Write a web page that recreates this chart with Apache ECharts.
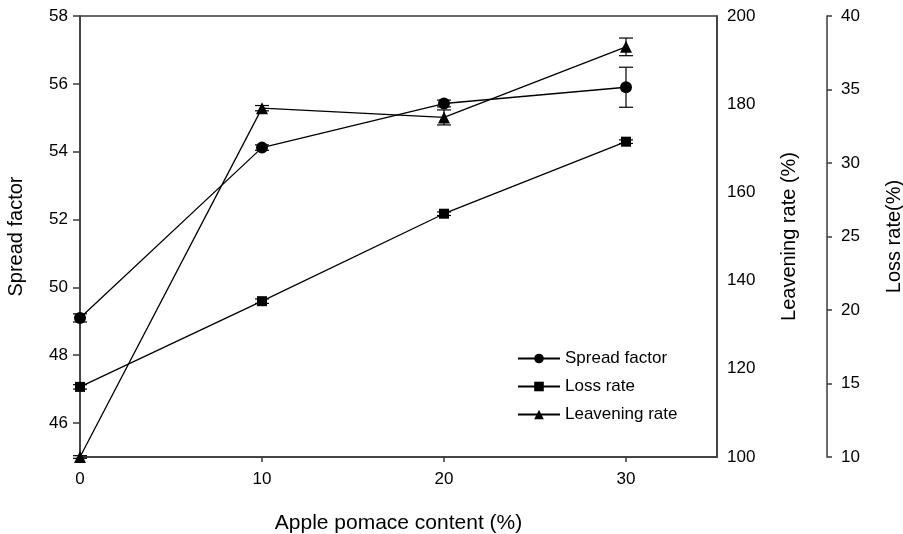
<!DOCTYPE html>
<html>
<head>
<meta charset="utf-8">
<script src="https://cdn.jsdelivr.net/npm/echarts@6/dist/echarts.min.js"></script>
<style>
  html, body { margin: 0; padding: 0; background: #fff; }
  #chart { width: 903px; height: 534px; }
</style>
</head>
<body>
<div id="chart"></div>
<script>
// data
const pomace = [0, 10, 20, 30]
const spreadFactor = [49.1, 54.12, 55.42, 55.9]
const spreadErr = [0.12, 0.08, 0.1, 0.59]
const lossRate = [14.77, 20.6, 26.55, 31.45]
const lossErr = [0.15, 0.15, 0.12, 0.12]
const leaveningRate = [100, 179.1, 177, 193]
const leaveningErr = [0.3, 0.6, 1.7, 2]

const xTicks = [0, 10, 20, 30]
const spreadTicks = [46, 48, 50, 52, 54, 56, 58]

const font = 'Liberation Sans, Arial, sans-serif'
const ink = '#000'
const axisInk = '#3a3a3a'

function pairs (vals) {
  return pomace.map((x, i) => [x, vals[i]])
}
function errData (vals, errs) {
  return pomace.map((x, i) => [x, vals[i] - errs[i], vals[i] + errs[i]])
}

// error bar renderer, goes through the axis scales
function errorBar (params, api) {
  const x = api.value(0)
  const lo = api.coord([x, api.value(1)])
  const hi = api.coord([x, api.value(2)])
  const half = 7
  const style = { stroke: ink, lineWidth: 1.2 }
  return {
    type: 'group',
    children: [
      { type: 'line', shape: { x1: lo[0], y1: lo[1], x2: hi[0], y2: hi[1] }, style },
      { type: 'line', shape: { x1: lo[0] - half, y1: lo[1], x2: lo[0] + half, y2: lo[1] }, style },
      { type: 'line', shape: { x1: hi[0] - half, y1: hi[1], x2: hi[0] + half, y2: hi[1] }, style }
    ]
  }
}

const lineStyleCommon = { color: ink, width: 1.3 }
const nameStyle = { color: ink, fontSize: 20, fontFamily: font }
const tickFont = 17

const option = {
  backgroundColor: '#fff',
  animation: false,
  textStyle: { fontFamily: font },
  grid: {
    left: 80,
    right: 186,
    top: 16,
    bottom: 77,
    containLabel: false,
    outerBoundsMode: 'none',
    show: true,
    borderColor: axisInk,
    borderWidth: 1.5,
    backgroundColor: 'transparent'
  },
  legend: {
    orient: 'vertical',
    left: 512,
    top: 345,
    itemWidth: 42,
    itemHeight: 12,
    itemGap: 11,
    data: ['Spread factor', 'Loss rate', 'Leavening rate'],
    textStyle: { color: ink, fontSize: 17, fontFamily: font }
  },
  xAxis: {
    type: 'value',
    min: 0,
    max: 35,
    name: 'Apple pomace content (%)',
    nameLocation: 'middle',
    nameGap: 56,
    nameTextStyle: { color: ink, fontSize: 21, fontFamily: font },
    axisLine: { show: true, lineStyle: { color: axisInk, width: 1.5 } },
    axisTick: { show: true, length: 5, customValues: xTicks, lineStyle: { color: axisInk, width: 1.5 } },
    axisLabel: { color: ink, fontSize: tickFont, margin: 14, customValues: xTicks },
    splitLine: { show: false }
  },
  yAxis: [
    {
      type: 'value',
      min: 45,
      max: 58,
      position: 'left',
      name: 'Spread factor',
      nameLocation: 'middle',
      nameGap: 54,
      nameTextStyle: nameStyle,
      axisLine: { show: true, lineStyle: { color: axisInk, width: 1.5 } },
      axisTick: { show: true, length: 7, customValues: spreadTicks, lineStyle: { color: axisInk, width: 1.5 } },
      axisLabel: { color: ink, fontSize: tickFont, margin: 12, customValues: spreadTicks },
      splitLine: { show: false }
    },
    {
      type: 'value',
      min: 100,
      max: 200,
      interval: 20,
      position: 'right',
      name: 'Leavening rate (%)',
      nameLocation: 'middle',
      nameGap: 62,
      nameRotate: 90,
      nameTextStyle: nameStyle,
      axisLine: { show: true, lineStyle: { color: axisInk, width: 1.5 } },
      axisTick: { show: false },
      axisLabel: { color: ink, fontSize: tickFont, margin: 10 },
      splitLine: { show: false }
    },
    {
      type: 'value',
      min: 10,
      max: 40,
      interval: 5,
      position: 'right',
      offset: 110,
      name: 'Loss rate(%)',
      nameLocation: 'middle',
      nameGap: 57,
      nameRotate: 90,
      nameTextStyle: nameStyle,
      axisLine: { show: true, lineStyle: { color: axisInk, width: 1.5 } },
      axisTick: { show: true, length: 5, lineStyle: { color: axisInk, width: 1.5 } },
      axisLabel: { color: ink, fontSize: tickFont, margin: 14 },
      splitLine: { show: false }
    }
  ],
  series: [
    {
      name: 'Spread factor',
      type: 'line',
      yAxisIndex: 0,
      data: pairs(spreadFactor),
      symbol: 'circle',
      symbolSize: 12,
      itemStyle: { color: ink },
      lineStyle: lineStyleCommon,
      z: 3
    },
    {
      name: 'Loss rate',
      type: 'line',
      yAxisIndex: 2,
      data: pairs(lossRate),
      symbol: 'rect',
      symbolSize: 10,
      itemStyle: { color: ink },
      lineStyle: lineStyleCommon,
      z: 3
    },
    {
      name: 'Leavening rate',
      type: 'line',
      yAxisIndex: 1,
      data: pairs(leaveningRate),
      symbol: 'triangle',
      symbolSize: 12,
      itemStyle: { color: ink },
      lineStyle: lineStyleCommon,
      z: 3
    },
    {
      name: 'spread err',
      type: 'custom',
      yAxisIndex: 0,
      renderItem: errorBar,
      encode: { x: 0, y: [1, 2] },
      data: errData(spreadFactor, spreadErr),
      z: 2
    },
    {
      name: 'loss err',
      type: 'custom',
      yAxisIndex: 2,
      renderItem: errorBar,
      encode: { x: 0, y: [1, 2] },
      data: errData(lossRate, lossErr),
      z: 2
    },
    {
      name: 'leavening err',
      type: 'custom',
      yAxisIndex: 1,
      renderItem: errorBar,
      encode: { x: 0, y: [1, 2] },
      data: errData(leaveningRate, leaveningErr),
      z: 2
    }
  ]
}

const myChart = echarts.init(document.getElementById('chart'))
myChart.setOption(option)
</script>
</body>
</html>
